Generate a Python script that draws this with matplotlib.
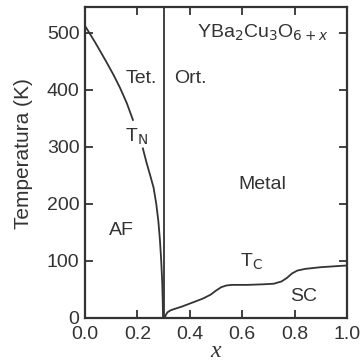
import matplotlib
matplotlib.use('Agg')
import matplotlib.pyplot as plt

plt.rcParams['font.family'] = ['Liberation Sans', 'DejaVu Sans']

# Neel temperature line (AF boundary), broken where the T_N label sits
tn_x = [0.0, 0.04, 0.08, 0.11, 0.134, 0.16, 0.183]
tn_y = [512, 482, 450, 425, 403, 376, 347]
tn2_x = [0.221, 0.235, 0.25, 0.262, 0.272, 0.28, 0.286, 0.291, 0.295, 0.297, 0.298]
tn2_y = [297, 272, 248, 228, 200, 170, 137, 100, 60, 25, 0]

# superconducting Tc line
tc_x = [0.305, 0.308, 0.315, 0.325, 0.336, 0.37, 0.41, 0.45, 0.48, 0.50, 0.52, 0.54, 0.56,
        0.62, 0.68, 0.72, 0.75, 0.77, 0.79, 0.81, 0.84, 0.90, 1.0]
tc_y = [0, 5, 10, 13, 15, 20, 27, 34, 41, 48, 54, 57, 58,
        58, 59, 60, 64, 70, 78, 83, 86, 89, 92]

xticks = [0.0, 0.2, 0.4, 0.6, 0.8, 1.0]
yticks = [0, 100, 200, 300, 400, 500]

fig = plt.figure(figsize=(3.6, 3.63), dpi=100)
ax = fig.add_axes([0.236, 0.124, 0.728, 0.857])
c = '#333333'

ax.plot(tn_x, tn_y, color=c, lw=1.3)
ax.plot(tn2_x, tn2_y, color=c, lw=1.3)
ax.plot(tc_x, tc_y, color=c, lw=1.3)
ax.axvline(0.302, color=c, lw=1.3)

ax.set_xlim(0, 1.0)
ax.set_ylim(0, 545)
ax.set_xticks(xticks)
ax.set_xticklabels(['0.0', '0.2', '0.4', '0.6', '0.8', '1.0'])
ax.set_yticks(yticks)
ax.tick_params(direction='in', top=True, right=True, length=6, width=1.3,
               labelsize=14, colors=c)
ax.tick_params(axis='x', pad=6)
ax.tick_params(axis='y', pad=4)
for s in ax.spines.values():
    s.set_linewidth(1.6)
    s.set_color(c)

ax.set_ylabel('Temperatura (K)', fontsize=15, color=c)
ax.yaxis.set_label_coords(-0.2, 0.53)
ax.set_xlabel('x', fontsize=17, color=c, family='Liberation Serif', style='italic',
              va='center')
ax.xaxis.set_label_coords(0.5, -0.108)

ax.text(0.275, 420, 'Tet.', ha='right', va='center', fontsize=14, color=c)
ax.text(0.34, 420, 'Ort.', ha='left', va='center', fontsize=14, color=c)
ax.text(0.93, 500, r'YBa$_2$Cu$_3$O$_{6+x}$', ha='right', va='center', fontsize=14, color=c)
ax.text(0.195, 318, r'T$_\mathrm{N}$', ha='center', va='center', fontsize=14, color=c)
ax.text(0.675, 233, 'Metal', ha='center', va='center', fontsize=14, color=c)
ax.text(0.14, 154, 'AF', ha='center', va='center', fontsize=14, color=c)
ax.text(0.635, 98, r'T$_\mathrm{C}$', ha='center', va='center', fontsize=14, color=c)
ax.text(0.835, 38, 'SC', ha='center', va='center', fontsize=14, color=c)

plt.savefig('out.png', dpi=100)
